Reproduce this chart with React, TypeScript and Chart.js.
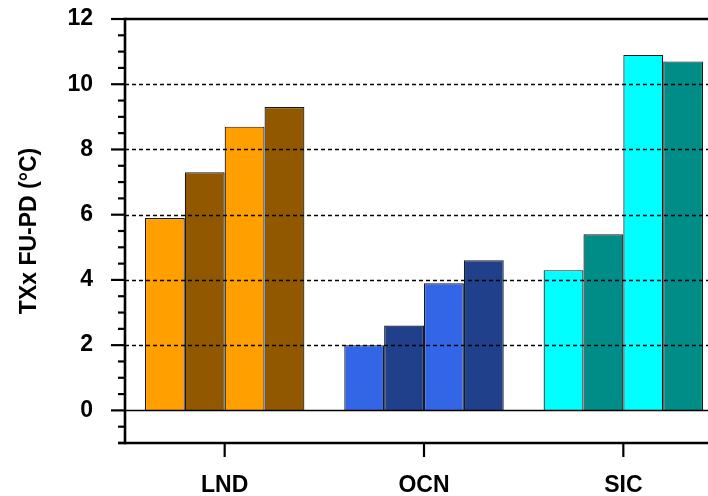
import React, { useEffect, useRef } from 'react';
import { Chart, registerables } from 'chart.js';

Chart.register(...registerables);

const categories = ['LND', 'OCN', 'SIC'];
const run1 = [5.9, 2.0, 4.3];
const run2 = [7.3, 2.6, 5.4];
const run3 = [8.7, 3.9, 10.9];
const run4 = [9.3, 4.6, 10.7];
const yTicks = [0, 2, 4, 6, 8, 10, 12];
const yMin = -1;
const yMax = 12;
const lightColors = ['#FFA000', '#3366E6', '#00FFFF'];
const darkColors = ['#915800', '#20408C', '#008C87'];
const yTitle = 'TXx FU-PD (°C)';

const FONT = "'Liberation Sans', Arial, Helvetica, sans-serif";
const CANVAS_W = 740;
const CANVAS_H = 496;

const framePlugin = {
  id: 'frame',
  afterDatasetsDraw(chart: any) {
    const { ctx, chartArea, scales } = chart;
    const y = scales.y;
    const x = scales.x;
    const L = chartArea.left;
    const R = chart.width;
    const T = chartArea.top;
    const B = chartArea.bottom;
    ctx.save();
    ctx.strokeStyle = '#000';
    ctx.lineCap = 'butt';
    // dashed grid lines
    ctx.lineWidth = 1.3;
    ctx.setLineDash([4, 3]);
    for (const v of yTicks) {
      if (v === 0 || v === yMax) continue;
      const py = Math.round(y.getPixelForValue(v)) + 0.5;
      ctx.beginPath();
      ctx.moveTo(L, py);
      ctx.lineTo(R, py);
      ctx.stroke();
    }
    ctx.setLineDash([]);
    // zero line
    const p0 = Math.round(y.getPixelForValue(0)) + 0.5;
    ctx.lineWidth = 1.5;
    ctx.beginPath();
    ctx.moveTo(L, p0);
    ctx.lineTo(R, p0);
    ctx.stroke();
    // top frame line
    const pTop = y.getPixelForValue(yMax);
    ctx.lineWidth = 2.6;
    ctx.beginPath();
    ctx.moveTo(L, pTop);
    ctx.lineTo(R, pTop);
    ctx.stroke();
    // bottom axis
    ctx.beginPath();
    ctx.moveTo(L - 7, B);
    ctx.lineTo(R, B);
    ctx.stroke();
    // left axis
    ctx.beginPath();
    ctx.moveTo(L, T - 1.3);
    ctx.lineTo(L, B + 1.3);
    ctx.stroke();
    // major ticks
    ctx.lineWidth = 2.2;
    for (const v of yTicks) {
      const py = y.getPixelForValue(v);
      ctx.beginPath();
      ctx.moveTo(L - 14, py);
      ctx.lineTo(L, py);
      ctx.stroke();
    }
    // minor ticks
    for (let k = yMin * 2; k <= yMax * 2; k++) {
      const v = k / 2;
      if (yTicks.includes(v)) continue;
      const py = y.getPixelForValue(v);
      ctx.beginPath();
      ctx.moveTo(L - 7, py);
      ctx.lineTo(L, py);
      ctx.stroke();
    }
    // x ticks
    for (let i = 0; i < categories.length; i++) {
      const px = x.getPixelForValue(i);
      ctx.beginPath();
      ctx.moveTo(px, B);
      ctx.lineTo(px, B + 14);
      ctx.stroke();
    }
    ctx.restore();
  },
};

export default function App() {
  const canvasRef = useRef<HTMLCanvasElement | null>(null);

  useEffect(() => {
    const canvas = canvasRef.current;
    if (!canvas) return;
    const mk = (label: string, data: number[], colors: string[]) => ({
      label,
      data,
      backgroundColor: colors,
      borderColor: '#1a1a1a',
      borderWidth: 1.2,
      barPercentage: 1,
      categoryPercentage: 0.8,
    });
    const chart = new Chart(canvas, {
      type: 'bar',
      data: {
        labels: categories,
        datasets: [
          mk('run1', run1, lightColors),
          mk('run2', run2, darkColors),
          mk('run3', run3, lightColors),
          mk('run4', run4, darkColors),
        ],
      },
      options: {
        responsive: false,
        animation: false,
        devicePixelRatio: 1,
        layout: { padding: { left: 0, top: 19, right: CANVAS_W - 723, bottom: 0 } },
        plugins: {
          legend: { display: false },
          tooltip: { enabled: false },
        },
        scales: {
          x: {
            offset: true,
            afterFit: (s: any) => {
              s.height = 53;
              s.paddingLeft = 0;
              s.paddingRight = 0;
            },
            grid: { display: false, drawTicks: false },
            border: { display: false },
            ticks: {
              padding: 29,
              color: '#000',
              font: { family: FONT, size: 23, weight: 'bold' },
            },
          },
          y: {
            min: yMin,
            max: yMax,
            afterBuildTicks: (s: any) => {
              s.ticks = yTicks.map((v) => ({ value: v }));
            },
            afterFit: (s: any) => {
              s.width = 125;
              s.paddingTop = 0;
              s.paddingBottom = 0;
            },
            grid: { display: false, drawTicks: false },
            border: { display: false },
            ticks: {
              padding: 32,
              color: '#000',
              font: { family: FONT, size: 23, weight: 'bold' },
            },
            title: {
              display: true,
              text: yTitle,
              color: '#000',
              font: { family: FONT, size: 23, weight: 'bold' },
              padding: { top: 16, bottom: 0 },
            },
          },
        },
      },
      plugins: [framePlugin],
    } as any);
    return () => chart.destroy();
  }, []);

  return (
    <div style={{ position: 'fixed', left: 0, top: 0, width: 708, height: 496, overflow: 'hidden', background: '#fff' }}>
      <canvas
        ref={canvasRef}
        width={CANVAS_W}
        height={CANVAS_H}
        style={{ display: 'block', width: CANVAS_W, height: CANVAS_H }}
      />
    </div>
  );
}
